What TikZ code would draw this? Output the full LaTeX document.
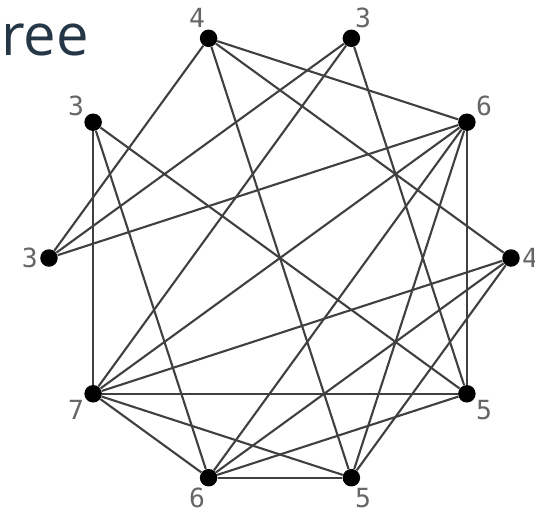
\documentclass[tikz,border=0pt]{standalone}
\usepackage{fontspec}
\usepackage{xcolor}
\usepackage{tikz}
\usetikzlibrary{positioning}
\newfontfamily\titlefont{Open Sans}
\newfontfamily\numfont{DejaVu Sans Mono}
\definecolor{titleblue}{HTML}{253746}

\begin{document}
\begin{tikzpicture}[
    x=0.02cm, y=0.02cm,
    vtx/.style={circle, fill=black, inner sep=0pt, minimum size=0.35cm},
    lbl/.style={font=\numfont\fontsize{15}{15}\selectfont, text=black!60, inner sep=0pt},
    every label/.style={lbl},
    label distance=1pt,
    edge/.style={draw=black!75, line width=1.2pt}
]
\useasboundingbox (-280,-254) rectangle (255,258);
\node[anchor=base west, font=\titlefont\fontsize{33}{33}\selectfont, text=titleblue, inner sep=0pt] (title) at (-279,203) {ree};
% vertices of the decagon, degree as label
\node[vtx, label={0:4}] (v1) at (0:231) {};
\node[vtx, label={36:6}] (v2) at (36:231) {};
\node[vtx, label={72:3}] (v3) at (72:231) {};
\node[vtx, label={108:4}] (v4) at (108:231) {};
\node[vtx, label={144:3}] (v5) at (144:231) {};
\node[vtx, label={180:3}] (v6) at (180:231) {};
\node[vtx, label={216:7}] (v7) at (216:231) {};
\node[vtx, label={252:6}] (v8) at (252:231) {};
\node[vtx, label={288:5}] (v9) at (288:231) {};
\node[vtx, label={324:5}] (v10) at (324:231) {};
% edges
\draw[edge] (v4) -- (v2);
\draw[edge] (v4) -- (v1);
\draw[edge] (v4) -- (v6);
\draw[edge] (v4) -- (v9);
\draw[edge] (v3) -- (v6);
\draw[edge] (v3) -- (v7);
\draw[edge] (v3) -- (v10);
\draw[edge] (v5) -- (v7);
\draw[edge] (v5) -- (v8);
\draw[edge] (v5) -- (v10);
\draw[edge] (v6) -- (v2);
\draw[edge] (v2) -- (v10);
\draw[edge] (v2) -- (v7);
\draw[edge] (v2) -- (v8);
\draw[edge] (v2) -- (v9);
\draw[edge] (v1) -- (v7);
\draw[edge] (v1) -- (v8);
\draw[edge] (v1) -- (v9);
\draw[edge] (v10) -- (v7);
\draw[edge] (v10) -- (v8);
\draw[edge] (v9) -- (v8);
\draw[edge] (v9) -- (v7);
\draw[edge] (v8) -- (v7);
\end{tikzpicture}
\end{document}
